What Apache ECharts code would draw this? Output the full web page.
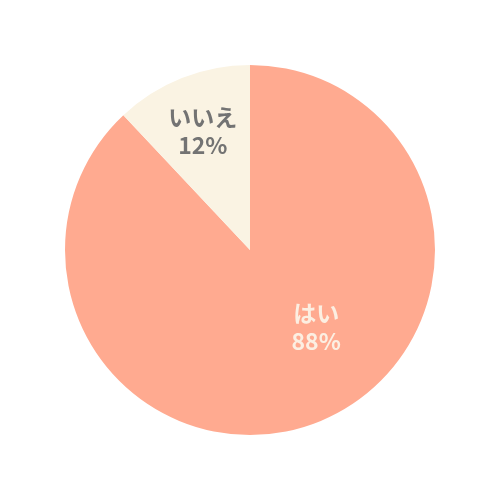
<!DOCTYPE html>
<html><head><meta charset="utf-8">
<script src="https://cdn.jsdelivr.net/npm/echarts@6/dist/echarts.min.js"></script>
<style>html,body{margin:0;padding:0;background:#fff}#c{width:501px;height:501px}</style>
</head><body><div id="c"></div>
<script>
const categories = ['はい', 'いいえ'];
const values = [88, 12];
const colors = ['#FFAA90', '#FAF3E3'];
const labelColors = ['#FCEFE2', '#737373'];
const labelOffsets = [[31, -12], [-12, -30]];

const chart = echarts.init(document.getElementById('c'));
chart.setOption({
  animation: false,
  series: [{
    type: 'pie',
    center: [250, 250],
    radius: [0, 185],
    startAngle: 90,
    clockwise: true,
    data: categories.map((n, i) => ({
      name: n, value: values[i],
      itemStyle: { color: colors[i] },
      label: { color: labelColors[i], offset: labelOffsets[i] }
    })),
    itemStyle: { borderWidth: 0 },
    label: {
      show: true, position: 'inside',
      formatter: p => p.name + '\n' + p.value + '%',
      fontFamily: 'Noto Sans CJK JP', fontWeight: 'bold', fontSize: 23, lineHeight: 28,
      align: 'center'
    },
    labelLine: { show: false },
    emphasis: { disabled: true }
  }]
});
</script></body></html>
